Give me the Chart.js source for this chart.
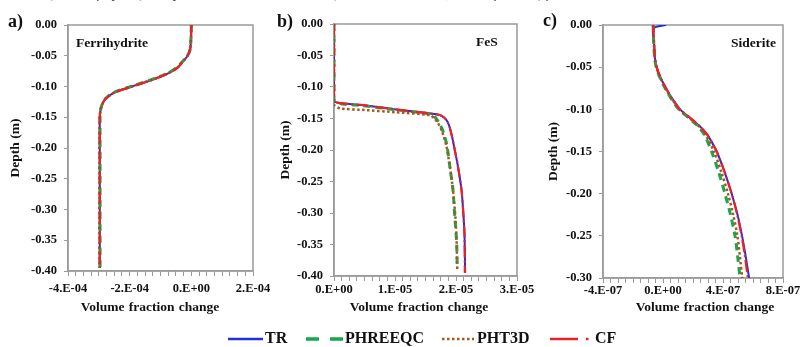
<!DOCTYPE html>
<html>
<head>
<meta charset="utf-8">
<script src="https://cdn.jsdelivr.net/npm/chart.js@4.4.0/dist/chart.umd.min.js"></script>
<style>
  body { margin: 0; background: #fff; }
  #fig {
    position: relative; width: 803px; height: 347px; overflow: hidden;
    font-family: "Liberation Serif", "Times New Roman", serif; color: #111;
  }
  #fig canvas { position: absolute; left: 0; top: 0; }
  .txt { position: absolute; font-weight: bold; white-space: nowrap; line-height: 1; }
  .tag { font-size: 18px; }
  .name { font-size: 13.5px; }
  .xtitle { font-size: 13.5px; transform: translateX(-50%); top: 300px; word-spacing: 1px; }
  .leg { font-size: 16px; top: 330px; }
  #caption {
    position: absolute; left: 0; top: -12px; font-size: 12.5px; font-style: italic;
    white-space: nowrap; line-height: 1; color: #222;
  }
  #caption span { color: #3a5bd9; }
  #legendLines { position: absolute; left: 0; top: 325px; }
</style>
</head>
<body>
<div id="fig">
  <div id="caption">reactions (at time of 5 years) and symbols indicate measured data (Data 1: summer 2001, Data 2: fall 2001) from [<span>48</span>]</div>

  <canvas id="chartA" width="803" height="347"></canvas>
  <canvas id="chartB" width="803" height="347"></canvas>
  <canvas id="chartC" width="803" height="347"></canvas>

  <div class="txt tag" style="left:8px; top:12px;">a)</div>
  <div class="txt tag" style="left:277px; top:12px;">b)</div>
  <div class="txt tag" style="left:543px; top:11px;">c)</div>

  <div class="txt name" style="left:76px; top:36px;">Ferrihydrite</div>
  <div class="txt name" style="left:476px; top:35px;">FeS</div>
  <div class="txt name" style="left:731px; top:36px;">Siderite</div>

  <div class="txt xtitle" style="left:150px;">Volume fraction change</div>
  <div class="txt xtitle" style="left:419px;">Volume fraction change</div>
  <div class="txt xtitle" style="left:705px;">Volume fraction change</div>

  <!-- leyenda común a los tres paneles -->
  <svg id="legendLines" width="803" height="22">
    <line x1="228" y1="14" x2="263" y2="14" stroke="#1f2fe0" stroke-width="2.5"/>
    <line x1="306" y1="14" x2="343" y2="14" stroke="#16a84c" stroke-width="3.5" stroke-dasharray="13 11"/>
    <line x1="442" y1="14" x2="474" y2="14" stroke="#a8561e" stroke-width="2.5" stroke-dasharray="2.5 2.5"/>
    <line x1="550" y1="14" x2="590" y2="14" stroke="#ea2127" stroke-width="2.5" stroke-dasharray="28 8 2.5 10"/>
  </svg>
  <div class="txt leg" style="left:265px;">TR</div>
  <div class="txt leg" style="left:345px;">PHREEQC</div>
  <div class="txt leg" style="left:477px;">PHT3D</div>
  <div class="txt leg" style="left:595px;">CF</div>
</div>

<script>
// ---- a) Ferrihidrita: profundidad (m) y cambio de fracción de volumen ----
const fhDepth    = [0, -0.02, -0.04, -0.05, -0.06, -0.07, -0.08, -0.09, -0.10, -0.11, -0.12, -0.13, -0.14, -0.15, -0.20, -0.25, -0.30, -0.35, -0.395];
const fhTR       = [0, -0.1e-5, -0.4e-5, -1.2e-5, -2.8e-5, -4.6e-5, -8.0e-5, -1.32e-4, -1.93e-4, -2.50e-4, -2.78e-4, -2.90e-4, -2.95e-4, -2.97e-4, -2.97e-4, -2.97e-4, -2.97e-4, -2.97e-4, -2.97e-4];
const fhPHREEQC  = [0, -0.1e-5, -0.4e-5, -1.3e-5, -3.0e-5, -4.9e-5, -8.4e-5, -1.36e-4, -1.96e-4, -2.52e-4, -2.79e-4, -2.90e-4, -2.95e-4, -2.96e-4, -2.96e-4, -2.96e-4, -2.96e-4, -2.96e-4, -2.96e-4];
const fhPHT3D    = [0, -0.1e-5, -0.4e-5, -1.2e-5, -2.9e-5, -4.7e-5, -8.2e-5, -1.34e-4, -1.94e-4, -2.51e-4, -2.78e-4, -2.90e-4, -2.95e-4, -2.97e-4, -2.98e-4, -2.98e-4, -2.98e-4, -2.98e-4, -2.98e-4];
const fhCF       = [0, -0.1e-5, -0.4e-5, -1.2e-5, -2.8e-5, -4.6e-5, -8.0e-5, -1.31e-4, -1.92e-4, -2.50e-4, -2.78e-4, -2.90e-4, -2.95e-4, -2.97e-4, -2.97e-4, -2.97e-4, -2.97e-4, -2.97e-4, -2.97e-4];

// ---- b) FeS ----
const fesDepthTR      = [0, -0.10, -0.123, -0.1285, -0.136, -0.144, -0.148, -0.155, -0.165, -0.181, -0.200, -0.225, -0.263, -0.300, -0.335, -0.395];
const fesTR           = [0, 0, 0, 0.45e-5, 1.05e-5, 1.72e-5, 1.80e-5, 1.86e-5, 1.90e-5, 1.94e-5, 1.98e-5, 2.03e-5, 2.09e-5, 2.12e-5, 2.14e-5, 2.15e-5];
const fesCF           = [0, 0, 0, 0.45e-5, 1.05e-5, 1.72e-5, 1.80e-5, 1.86e-5, 1.90e-5, 1.94e-5, 1.98e-5, 2.03e-5, 2.09e-5, 2.12e-5, 2.14e-5, 2.145e-5];
const fesDepthPHREEQC = [0, -0.10, -0.124, -0.1293, -0.1365, -0.143, -0.147, -0.152, -0.160, -0.171, -0.192, -0.220, -0.263, -0.306, -0.345, -0.388];
const fesPHREEQC      = [0, 0, 0, 0.45e-5, 1.05e-5, 1.60e-5, 1.65e-5, 1.69e-5, 1.74e-5, 1.79e-5, 1.85e-5, 1.89e-5, 1.95e-5, 1.98e-5, 2.01e-5, 2.02e-5];
const fesDepthPHT3D   = [0, -0.10, -0.128, -0.134, -0.1365, -0.140, -0.1445, -0.150, -0.158, -0.170, -0.192, -0.220, -0.263, -0.306, -0.345, -0.390];
const fesPHT3D        = [0, 0, 0, 0.10e-5, 0.50e-5, 1.00e-5, 1.57e-5, 1.65e-5, 1.71e-5, 1.77e-5, 1.84e-5, 1.89e-5, 1.95e-5, 1.99e-5, 2.01e-5, 2.02e-5];

// ---- c) Siderita ----
const sidDepth    = [0, -0.02, -0.04, -0.05, -0.06, -0.07, -0.08, -0.09, -0.10, -0.11, -0.12, -0.13, -0.15, -0.175, -0.20, -0.225, -0.25, -0.275, -0.30];
const sidDepthTR  = [0, -0.004, -0.02, -0.04, -0.05, -0.06, -0.07, -0.08, -0.09, -0.10, -0.11, -0.12, -0.13, -0.15, -0.175, -0.20, -0.225, -0.25, -0.275, -0.30];
const sidTR       = [0.2e-7, -0.63e-7, -0.60e-7, -0.53e-7, -0.42e-7, -0.22e-7, 0.05e-7, 0.36e-7, 0.72e-7, 1.13e-7, 1.80e-7, 2.45e-7, 2.95e-7, 3.58e-7, 4.12e-7, 4.58e-7, 4.97e-7, 5.27e-7, 5.52e-7, 5.74e-7];
const sidCF       = [-0.64e-7, -0.60e-7, -0.53e-7, -0.42e-7, -0.22e-7, 0.05e-7, 0.36e-7, 0.72e-7, 1.13e-7, 1.80e-7, 2.45e-7, 2.95e-7, 3.58e-7, 4.12e-7, 4.58e-7, 4.95e-7, 5.24e-7, 5.47e-7, 5.65e-7];
const sidPHREEQC  = [-0.66e-7, -0.62e-7, -0.55e-7, -0.45e-7, -0.26e-7, 0.00e-7, 0.30e-7, 0.65e-7, 1.05e-7, 1.70e-7, 2.33e-7, 2.75e-7, 3.24e-7, 3.72e-7, 4.13e-7, 4.50e-7, 4.80e-7, 4.98e-7, 5.13e-7];
const sidPHT3D    = [-0.65e-7, -0.61e-7, -0.54e-7, -0.44e-7, -0.24e-7, 0.02e-7, 0.32e-7, 0.68e-7, 1.08e-7, 1.74e-7, 2.38e-7, 2.82e-7, 3.40e-7, 3.90e-7, 4.33e-7, 4.68e-7, 4.96e-7, 5.13e-7, 5.28e-7];

// ---- Estilo de cada modelo ----
const seriesNames  = ['TR', 'PHREEQC', 'PHT3D', 'CF'];
const seriesColors = ['#1f2fe0', '#16a84c', '#a8561e', '#ea2127'];
const seriesDashes = [[], [7, 5], [2.5, 2.5], [12, 3, 2, 3]];
const seriesWidths = [2, 3, 2.5, 2.2];

const axisGrey = '#9a9a9a';
const tickFont = { family: '"Liberation Serif", "Times New Roman", serif', size: 12.5, weight: 'bold' };
const titleFont = { family: '"Liberation Serif", "Times New Roman", serif', size: 13.5, weight: 'bold' };

// Formato tipo Excel: "-4.E-04", "0.E+00"
function sciLabel(v) {
    if (Math.abs(v) < 1e-15) return '0.E+00';
    const exp = Math.floor(Math.log10(Math.abs(v)) + 1e-9);
    const mant = Math.round(v / Math.pow(10, exp));
    const sign = exp < 0 ? '-' : '+';
    return mant + '.E' + sign + String(Math.abs(exp)).padStart(2, '0');
}

// Marco gris alrededor del área de graficado
const plotFrame = {
    id: 'plotFrame',
    beforeDatasetsDraw(chart) {
        const { ctx, chartArea: a } = chart;
        ctx.save();
        ctx.strokeStyle = axisGrey;
        ctx.lineWidth = 1.5;
        ctx.strokeRect(a.left, a.top, a.right - a.left, a.bottom - a.top);
        ctx.restore();
    }
};

function toPoints(depths, values) {
    return values.map((v, i) => ({ x: v, y: depths[i] }));
}

function buildPanel(canvasId, p) {
    const datasets = p.series.map((s, i) => ({
        label: seriesNames[i],
        data: toPoints(s.depth, s.values),
        showLine: true,
        borderColor: seriesColors[i],
        borderWidth: seriesWidths[i],
        borderDash: seriesDashes[i],
        pointRadius: 0,
        tension: p.tension,
        fill: false,
        order: 4 - i   // CF encima, TR debajo
    }));

    const W = 803, H = 347;
    const xAxisHeight = 30;

    new Chart(document.getElementById(canvasId), {
        type: 'scatter',
        data: { datasets },
        options: {
            responsive: false,
            animation: false,
            events: [],
            layout: {
                padding: {
                    left: p.area.left - p.yAxisWidth,
                    top: p.area.top,
                    right: W - p.area.right,
                    bottom: H - p.area.bottom - xAxisHeight
                }
            },
            plugins: { legend: { display: false }, tooltip: { enabled: false } },
            scales: {
                x: {
                    type: 'linear',
                    position: 'bottom',
                    min: p.xMin,
                    max: p.xMax,
                    afterFit: (scale) => { scale.height = xAxisHeight; },
                    ticks: {
                        stepSize: p.xMinor,
                        autoSkip: false,
                        maxRotation: 0,
                        padding: p.xLabelPad,
                        color: '#111',
                        font: tickFont,
                        callback: function(value) {
                            const r = value / p.xMajor;
                            return Math.abs(r - Math.round(r)) < 1e-6 ? sciLabel(value) : '';
                        }
                    },
                    grid: { drawOnChartArea: false, drawTicks: true, tickLength: 5, color: axisGrey, lineWidth: 1 },
                    border: { color: axisGrey, width: 1.5 }
                },
                y: {
                    type: 'linear',
                    position: 'left',
                    min: p.yMin,
                    max: 0,
                    afterFit: (scale) => { scale.width = p.yAxisWidth; },
                    ticks: {
                        stepSize: 0.05,
                        padding: 7,
                        color: '#111',
                        font: tickFont,
                        callback: (v) => (Math.abs(v) < 1e-9 ? 0 : v).toFixed(2)
                    },
                    grid: { drawOnChartArea: false, drawTicks: true, tickLength: 4, color: axisGrey, lineWidth: 1 },
                    border: { color: axisGrey, width: 1.5 },
                    title: {
                        display: true,
                        text: 'Depth (m)',
                        color: '#111',
                        font: titleFont,
                        padding: { top: p.yTitlePad, bottom: 0 }
                    }
                }
            }
        },
        plugins: [plotFrame]
    });
}

document.addEventListener('DOMContentLoaded', function() {
    buildPanel('chartA', {
        area: { left: 68, top: 25, right: 253, bottom: 271 },
        yAxisWidth: 68, yTitlePad: 7, xLabelPad: 5,
        xMin: -4e-4, xMax: 2e-4, xMajor: 2e-4, xMinor: 2.5e-5, yMin: -0.40,
        tension: 0.3,
        series: [
            { depth: fhDepth, values: fhTR },
            { depth: fhDepth, values: fhPHREEQC },
            { depth: fhDepth, values: fhPHT3D },
            { depth: fhDepth, values: fhCF }
        ]
    });

    buildPanel('chartB', {
        area: { left: 334, top: 24, right: 517, bottom: 276 },
        yAxisWidth: 60, yTitlePad: 3, xLabelPad: 1,
        xMin: 0, xMax: 3e-5, xMajor: 1e-5, xMinor: 1.25e-6, yMin: -0.40,
        tension: 0.2,
        series: [
            { depth: fesDepthTR, values: fesTR },
            { depth: fesDepthPHREEQC, values: fesPHREEQC },
            { depth: fesDepthPHT3D, values: fesPHT3D },
            { depth: fesDepthTR, values: fesCF }
        ]
    });

    buildPanel('chartC', {
        area: { left: 603, top: 25, right: 783, bottom: 278 },
        yAxisWidth: 60, yTitlePad: 2, xLabelPad: 0,
        xMin: -4e-7, xMax: 8e-7, xMajor: 4e-7, xMinor: 5e-8, yMin: -0.30,
        tension: 0.3,
        series: [
            { depth: sidDepthTR, values: sidTR },
            { depth: sidDepth, values: sidPHREEQC },
            { depth: sidDepth, values: sidPHT3D },
            { depth: sidDepth, values: sidCF }
        ]
    });
});
</script>
</body>
</html>
